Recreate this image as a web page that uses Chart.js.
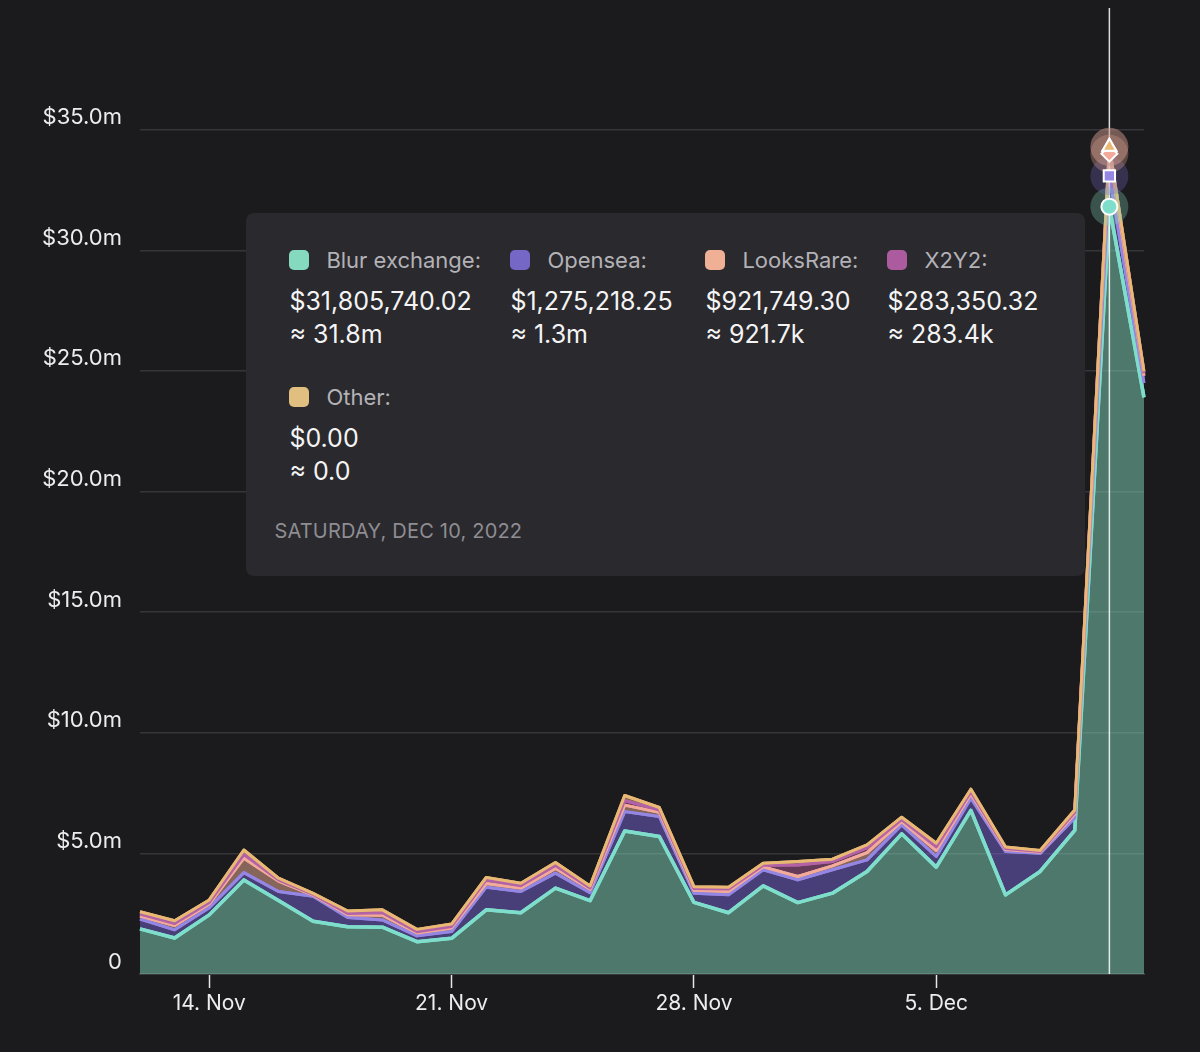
<!DOCTYPE html>
<html>
<head>
<meta charset="utf-8">
<script src="https://cdn.jsdelivr.net/npm/chart.js@4.4.0/dist/chart.umd.min.js"></script>
<style>
  html, body { margin: 0; padding: 0; background: #1b1a1c; }
  #wrap { position: relative; width: 1200px; height: 1052px; font-family: Inter, "Noto Sans", sans-serif; }
  #chart { display: block; }
  #tip {
    position: absolute; width: 839px; height: 363px; box-sizing: border-box;
    background: #2a292e; border-radius: 8px; pointer-events: none; display: none;
  }
  #tip .grid {
    position: absolute; left: 43px; top: 36px;
    display: grid; grid-template-columns: 221px 195px 182px 170px;
  }
  #tip .item { height: 137px; }
  #tip .head { display: flex; align-items: center; height: 22px; font-size: 22px; color: #b3b2b6; white-space: nowrap; }
  #tip .sw { width: 20px; height: 20px; border-radius: 5px; margin-right: 17px; flex: none; }
  #tip .val { margin-top: 14px; font-size: 25px; line-height: 33px; color: #f4f4f4; white-space: nowrap; }
  #tip .date { position: absolute; left: 28px; top: 306px; font-size: 20px; line-height: 24px; color: #8e8d92; letter-spacing: 0.2px; }
</style>
</head>
<body>
<div id="wrap">
  <canvas id="chart" width="1200" height="1052"></canvas>
  <div id="tip"></div>
</div>
<script>
// daily volume, millions of USD
const days = ['2022-11-12', '2022-11-13', '2022-11-14', '2022-11-15', '2022-11-16', '2022-11-17',
  '2022-11-18', '2022-11-19', '2022-11-20', '2022-11-21', '2022-11-22', '2022-11-23', '2022-11-24',
  '2022-11-25', '2022-11-26', '2022-11-27', '2022-11-28', '2022-11-29', '2022-11-30', '2022-12-01',
  '2022-12-02', '2022-12-03', '2022-12-04', '2022-12-05', '2022-12-06', '2022-12-07', '2022-12-08',
  '2022-12-09', '2022-12-10', '2022-12-11'];
const blur = [1.87, 1.49, 2.45, 3.90, 3.05, 2.19, 1.96, 1.94, 1.34, 1.48, 2.66, 2.54, 3.56, 3.04, 5.93,
  5.70, 2.97, 2.54, 3.65, 2.96, 3.35, 4.25, 5.81, 4.43, 6.78, 3.28, 4.25, 5.95, 31.80574002, 23.90];
const opensea = [0.41, 0.34, 0.30, 0.30, 0.37, 1.03, 0.38, 0.30, 0.24, 0.28, 0.94, 0.88, 0.62, 0.33, 0.80,
  0.83, 0.38, 0.74, 0.67, 0.94, 0.97, 0.48, 0.37, 0.44, 0.51, 1.80, 0.75, 0.52, 1.27521825, 0.60];
const looksrare = [0.12, 0.18, 0.15, 0.60, 0.43, 0.05, 0.12, 0.20, 0.12, 0.15, 0.15, 0.14, 0.20, 0.14, 0.27,
  0.17, 0.12, 0.14, 0.12, 0.14, 0.16, 0.30, 0.14, 0.25, 0.17, 0.08, 0.05, 0.15, 0.9217493, 0.30];
const x2y2 = [0.08, 0.08, 0.07, 0.15, 0.05, 0.03, 0.05, 0.10, 0.05, 0.06, 0.15, 0.10, 0.12, 0.06, 0.19,
  0.10, 0.07, 0.10, 0.07, 0.48, 0.18, 0.20, 0.08, 0.15, 0.10, 0.04, 0.03, 0.08, 0.28335032, 0.10];
const other = [0.10, 0.12, 0.10, 0.19, 0.07, 0.04, 0.10, 0.12, 0.10, 0.10, 0.10, 0.10, 0.12, 0.08, 0.21,
  0.10, 0.08, 0.08, 0.08, 0.14, 0.10, 0.12, 0.10, 0.15, 0.10, 0.06, 0.04, 0.10, 0, 0.08];
const xTickDays = ['2022-11-14', '2022-11-21', '2022-11-28', '2022-12-05'];
const yTicks = [0, 5, 10, 15, 20, 25, 30, 35];
const hoverDay = '2022-12-10';

const months = ['Jan', 'Feb', 'Mar', 'Apr', 'May', 'Jun', 'Jul', 'Aug', 'Sep', 'Oct', 'Nov', 'Dec'];
function shortDate(s) {
  const d = new Date(s + 'T00:00:00Z');
  return d.getUTCDate() + '. ' + months[d.getUTCMonth()];
}
function longDate(s) {
  const d = new Date(s + 'T00:00:00Z');
  return d.toLocaleDateString('en-US', { weekday: 'long', month: 'short', day: 'numeric', year: 'numeric', timeZone: 'UTC' }).toUpperCase();
}

const series = [
  { name: 'Blur exchange', data: blur, line: '#7fdecb', fill: 'rgba(128,214,186,0.5)', sw: '#85d9bf', style: 'circle', width: 3.5 },
  { name: 'Opensea', data: opensea, line: '#9486e2', fill: 'rgba(117,100,212,0.5)', sw: '#7467c5', style: 'rect', width: 3 },
  { name: 'LooksRare', data: looksrare, line: '#f3aa9a', fill: 'rgba(241,178,154,0.5)', sw: '#f0b096', style: 'rectRot', width: 3 },
  { name: 'X2Y2', data: x2y2, line: '#b462a6', fill: 'rgba(176,92,150,0.5)', sw: '#ac5c9e', style: 'triangle', width: 3 },
  { name: 'Other', data: other, line: '#e8b874', fill: 'rgba(226,190,128,0.5)', sw: '#e0bf80', style: 'triangle', width: 3 },
];

function fmtFull(v) {
  const n = Math.round(v * 1e8) / 100;
  return '$' + n.toLocaleString('en-US', { minimumFractionDigits: 2, maximumFractionDigits: 2 });
}
function fmtShort(v) {
  if (v >= 1) return (v).toFixed(1) + 'm';
  if (v > 0) return (v * 1000).toFixed(1) + 'k';
  return '0.0';
}

function externalTip(context) {
  const el = document.getElementById('tip');
  const tt = context.tooltip;
  if (tt.opacity === 0 || !tt.dataPoints) { el.style.display = 'none'; return; }
  let html = '<div class="grid">';
  tt.dataPoints.forEach((p) => {
    const s = series[p.datasetIndex];
    const v = s.data[p.dataIndex];
    html += '<div class="item"><div class="head"><span class="sw" style="background:' + s.sw + '"></span>' +
      s.name + ':</div><div class="val">' + fmtFull(v) + '<br>≈ ' + fmtShort(v) + '</div></div>';
  });
  html += '</div><div class="date">' + longDate(days[tt.dataPoints[0].dataIndex]) + '</div>';
  el.innerHTML = html;
  el.style.display = 'block';
  el.style.left = (tt.caretX - 24 - 839) + 'px';
  el.style.top = (context.chart.chartArea.top + 204) + 'px';
}

// crosshair, hover markers and lines re-stroked so upper series sit on top
const hoverPlugin = {
  id: 'hoverMarks',
  afterDatasetsDraw(chart) {
    const ctx = chart.ctx;
    const area = chart.chartArea;
    for (let i = 0; i < series.length; i++) {
      chart.getDatasetMeta(i).dataset.draw(ctx, area);
    }
    const idx = days.indexOf(hoverDay);
    const x = chart.scales.x.getPixelForValue(idx);
    ctx.save();
    ctx.strokeStyle = 'rgba(255,255,255,0.85)';
    ctx.lineWidth = 1.5;
    ctx.beginPath();
    ctx.moveTo(x, area.top - 1);
    ctx.lineTo(x, area.bottom);
    ctx.stroke();
    series.forEach((s, i) => {
      const pt = chart.getDatasetMeta(i).data[idx];
      ctx.fillStyle = s.sw;
      ctx.globalAlpha = 0.3;
      ctx.beginPath();
      ctx.arc(pt.x, pt.y, 19, 0, Math.PI * 2);
      ctx.fill();
    });
    ctx.globalAlpha = 1;
    series.forEach((s, i) => {
      const pt = chart.getDatasetMeta(i).data[idx];
      ctx.fillStyle = s.line;
      ctx.strokeStyle = '#ffffff';
      ctx.lineWidth = 2;
      Chart.helpers.drawPoint(ctx, { pointStyle: s.style, radius: 8, rotation: 0, borderWidth: 2 }, pt.x, pt.y);
    });
    ctx.restore();
  }
};

const chart = new Chart(document.getElementById('chart'), {
  type: 'line',
  data: {
    labels: days,
    datasets: series.map((s, i) => ({
      label: s.name,
      data: s.data,
      borderColor: s.line,
      backgroundColor: s.fill,
      borderWidth: s.width,
      fill: i === 0 ? 'origin' : '-1',
      tension: 0,
      pointRadius: 0,
      pointHoverRadius: 0,
      borderJoinStyle: 'round',
    })),
  },
  plugins: [hoverPlugin],
  options: {
    responsive: false,
    animation: false,
    events: [],
    layout: { padding: { top: 9, right: 56, left: 0, bottom: 0 } },
    interaction: { mode: 'index', intersect: false },
    plugins: {
      legend: { display: false },
      tooltip: { enabled: false, mode: 'index', external: externalTip },
    },
    scales: {
      x: {
        afterFit: (scale) => { scale.height = 78; scale.paddingLeft = 0; scale.paddingRight = 0; },
        grid: {
          drawOnChartArea: false,
          drawTicks: true,
          tickLength: 14,
          tickWidth: 1.5,
          tickColor: (c) => xTickDays.includes(days[c.index]) ? '#e6e6e6' : 'transparent',
        },
        border: { display: true, color: '#3a393d', width: 2 },
        ticks: {
          autoSkip: false,
          maxRotation: 0,
          padding: 3,
          color: '#ededed',
          font: { family: 'Inter', size: 21 },
          callback: (v, i) => xTickDays.includes(days[i]) ? shortDate(days[i]) : '',
        },
      },
      y: {
        stacked: true,
        min: 0,
        max: 40,
        afterFit: (scale) => { scale.width = 140; scale.paddingTop = 0; scale.paddingBottom = 0; },
        afterBuildTicks: (scale) => { scale.ticks = yTicks.map((v) => ({ value: v })); },
        grid: {
          drawTicks: false,
          lineWidth: 1.5,
          color: (c) => c.tick.value === 0 ? 'transparent' : '#363539',
        },
        border: { display: false },
        ticks: {
          padding: 18,
          labelOffset: -12,
          color: '#ededed',
          font: { family: 'Inter', size: 22 },
          callback: (v) => v === 0 ? '0' : '$' + v.toFixed(1) + 'm',
        },
      },
    },
  },
});

const hoverIdx = days.indexOf(hoverDay);
const active = series.map((s, i) => ({ datasetIndex: i, index: hoverIdx }));
chart.setActiveElements(active);
const p0 = chart.getDatasetMeta(0).data[hoverIdx];
chart.tooltip.setActiveElements(active, { x: p0.x, y: p0.y });
chart.update();
</script>
</body>
</html>
